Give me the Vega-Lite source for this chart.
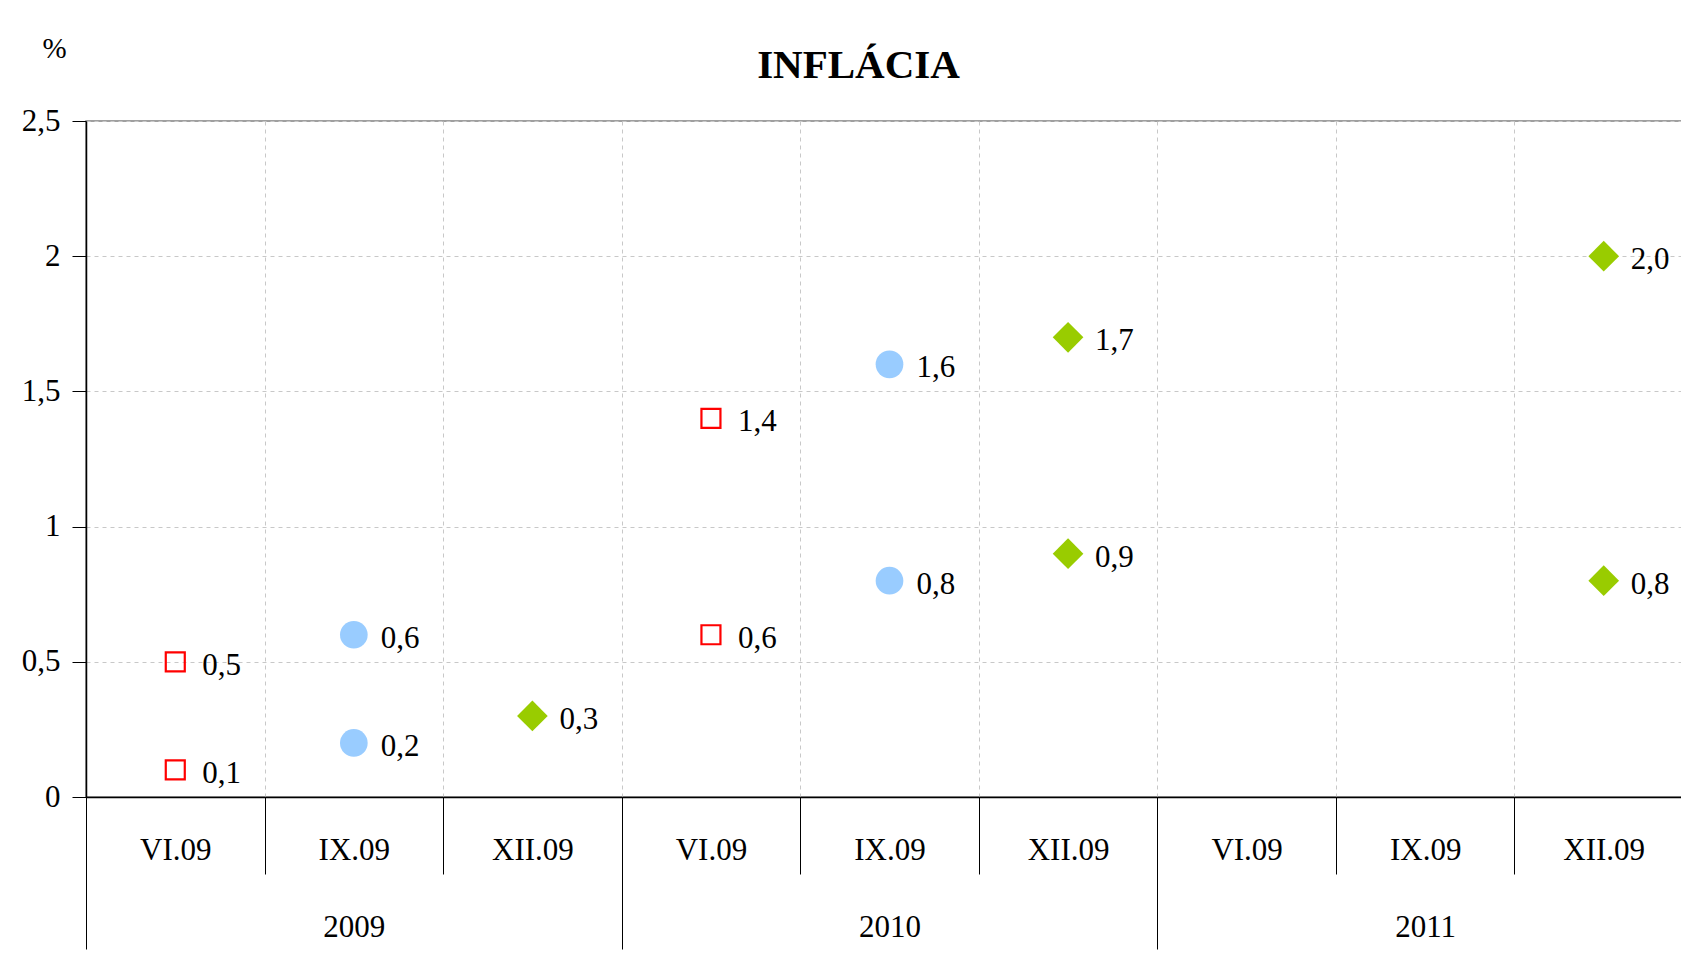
{
  "$schema": "https://vega.github.io/schema/vega-lite/v6.json",
  "autosize": "none",
  "width": 1607,
  "height": 676,
  "padding": {"left": 86, "top": 121, "right": 0, "bottom": 160},
  "background": "white",
  "title": {"text": "INFLÁCIA", "font": "Liberation Serif", "fontSize": 41, "fontWeight": "bold", "color": "black", "anchor": "middle", "dx": -31, "offset": -85, "baseline": "alphabetic"},
  "data": {"values": [
    {"period": "2009 VI.09", "year": "2009", "month": "VI.09", "value": 0.5},
    {"period": "2009 VI.09", "year": "2009", "month": "VI.09", "value": 0.1},
    {"period": "2009 IX.09", "year": "2009", "month": "IX.09", "value": 0.6},
    {"period": "2009 IX.09", "year": "2009", "month": "IX.09", "value": 0.2},
    {"period": "2009 XII.09", "year": "2009", "month": "XII.09", "value": 0.3},
    {"period": "2010 VI.09", "year": "2010", "month": "VI.09", "value": 1.4},
    {"period": "2010 VI.09", "year": "2010", "month": "VI.09", "value": 0.6},
    {"period": "2010 IX.09", "year": "2010", "month": "IX.09", "value": 1.6},
    {"period": "2010 IX.09", "year": "2010", "month": "IX.09", "value": 0.8},
    {"period": "2010 XII.09", "year": "2010", "month": "XII.09", "value": 1.7},
    {"period": "2010 XII.09", "year": "2010", "month": "XII.09", "value": 0.9},
    {"period": "2011 XII.09", "year": "2011", "month": "XII.09", "value": 2.0},
    {"period": "2011 XII.09", "year": "2011", "month": "XII.09", "value": 0.8}
  ]},
  "encoding": {
    "y": {"field": "value", "type": "quantitative",
      "scale": {"domain": [0, 2.5], "nice": false, "zero": true},
      "axis": {"title": "%", "titleAngle": 0, "titleX": -32, "titleY": -73, "titleFontSize": 29, "titleFontWeight": "normal", "titleColor": "black", "titleAlign": "center", "titleBaseline": "middle",
        "format": ".1~f", "values": [0, 0.5, 1, 1.5, 2, 2.5], "labelFontSize": 31, "labelColor": "black", "labelPadding": 12, "tickSize": 14, "tickColor": "black", "domainColor": "black", "domainWidth": 1.5,
        "grid": true, "gridDash": [4, 4], "gridColor": "#c8c8c8"}}
  },
  "layer": [
    {
      "mark": {"type": "point", "opacity": 0},
      "encoding": {
        "x": {"field": "year", "type": "nominal",
          "scale": {"type": "band", "domain": ["2009", "2010", "2011"], "paddingInner": 0, "paddingOuter": 0},
          "axis": {"orient": "bottom", "title": null, "tickBand": "extent", "tickSize": 152, "tickColor": "black", "labelAngle": 0, "labelFontSize": 31, "labelColor": "black", "labelBaseline": "middle", "labelPadding": -22, "domain": false, "grid": false}}
      }
    },
    {
      "encoding": {
        "x": {"field": "period", "type": "nominal",
          "scale": {"type": "band", "domain": ["2009 VI.09", "2009 IX.09", "2009 XII.09", "2010 VI.09", "2010 IX.09", "2010 XII.09", "2011 VI.09", "2011 IX.09", "2011 XII.09"], "paddingInner": 0, "paddingOuter": 0},
          "axis": {"orient": "bottom", "title": null, "labelExpr": "split(datum.label, ' ')[1]", "tickBand": "extent", "tickSize": 77, "tickColor": "black", "labelAngle": 0, "labelFontSize": 31, "labelColor": "black", "labelBaseline": "middle", "labelPadding": -24, "domainColor": "black", "domainWidth": 1.5, "grid": true, "gridDash": [4, 4], "gridColor": "#c8c8c8"}}
      },
      "layer": [
        {
          "mark": {"type": "point", "shape": "square", "filled": false, "stroke": "#ff0000", "strokeWidth": 2.2, "size": 361, "opacity": 1},
          "transform": [{"filter": "datum.month == 'VI.09'"}]
        },
        {
          "mark": {"type": "point", "shape": "circle", "filled": true, "fill": "#99ccff", "size": 767, "opacity": 1},
          "transform": [{"filter": "datum.month == 'IX.09'"}]
        },
        {
          "mark": {"type": "point", "shape": "diamond", "filled": true, "fill": "#99cc00", "size": 940, "opacity": 1},
          "transform": [{"filter": "datum.month == 'XII.09'"}]
        },
        {
          "mark": {"type": "text", "align": "left", "baseline": "middle", "dx": 27, "dy": 4, "fontSize": 31, "color": "black"},
          "encoding": {
            "text": {"field": "value", "type": "quantitative", "format": ".1f"}
          }
        }
      ]
    }
  ],
  "resolve": {"scale": {"x": "independent"}},
  "config": {
    "font": "Liberation Serif",
    "locale": {"number": {"decimal": ",", "thousands": " ", "grouping": [3], "currency": ["", ""]}},
    "view": {"stroke": "#808080", "strokeWidth": 1.5}
  }
}
